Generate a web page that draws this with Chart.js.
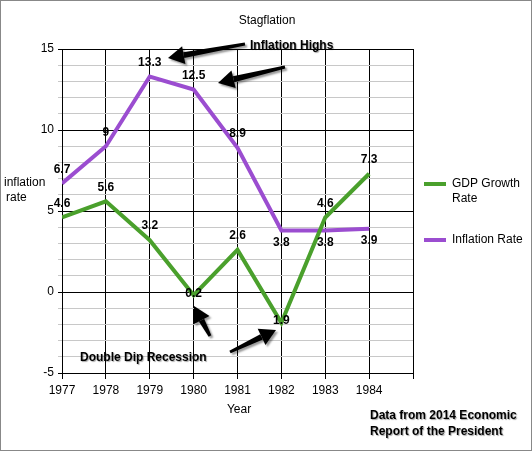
<!DOCTYPE html><html><head><meta charset="utf-8">
<script src="https://cdn.jsdelivr.net/npm/chart.js@4"></script>
<style>html,body{margin:0;padding:0;background:#fff}#w{width:532px;height:451px;position:relative}</style></head><body>
<div id="w"><canvas id="c" width="532" height="451"></canvas></div>
<script>
const years=[1977,1978,1979,1980,1981,1982,1983,1984];
const gdp=[4.6,5.6,3.2,-0.2,2.6,-1.9,4.6,7.3];
const inflation=[6.7,9,13.3,12.5,8.9,3.8,3.8,3.9];
const gdpLabels=['4.6','5.6','3.2','0.2','2.6','1.9','4.6','7.3'];
const infLabels=['6.7','9','13.3','12.5','8.9','3.8','3.8','3.9'];
const F='"Liberation Sans", Arial, sans-serif';
const GREEN='#4aa02c', PURPLE='#9b4dd0';
function arrow(ctx,x1,y1,x2,y2){
  const a=Math.atan2(y2-y1,x2-x1), L=16;
  ctx.save();ctx.shadowColor='rgba(0,0,0,0.4)';ctx.shadowOffsetX=2;ctx.shadowOffsetY=2;ctx.shadowBlur=2;
  ctx.fillStyle='#000';
  const hx=x2-L*Math.cos(a),hy=y2-L*Math.sin(a),px=-Math.sin(a),py=Math.cos(a);
  ctx.beginPath();ctx.moveTo(x1+px*1.5,y1+py*1.5);ctx.lineTo(hx+px*3,hy+py*3);ctx.lineTo(hx-px*3,hy-py*3);ctx.lineTo(x1-px*1.5,y1-py*1.5);ctx.fill();
  ctx.beginPath();ctx.moveTo(x2,y2);ctx.lineTo(hx+px*9,hy+py*9);ctx.lineTo(hx-px*9,hy-py*9);ctx.closePath();ctx.fill();
  ctx.restore();
}
const deco={id:'deco',afterDatasetsDraw(ch){
  const ctx=ch.ctx,xs=ch.scales.x,ys=ch.scales.y;
  ctx.save();
  ctx.font='bold 12px '+F;ctx.fillStyle='#000';ctx.textAlign='center';ctx.textBaseline='middle';
  years.forEach((yr,i)=>{
    const x=xs.getPixelForValue(yr);
    let py=ys.getPixelForValue(gdp[i]);
    ctx.fillText(gdpLabels[i],x,gdp[i]<0?py-2:py-14);
    py=ys.getPixelForValue(inflation[i]);
    ctx.fillText(infLabels[i],x,(i>=5)?py+12:py-14);
  });
  arrow(ctx,245,44,168,58);
  arrow(ctx,285,67,218,83);
  arrow(ctx,210,336,194,306);
  arrow(ctx,230,352,276,330);
  ctx.shadowColor='rgba(0,0,0,0.35)';ctx.shadowOffsetX=1;ctx.shadowOffsetY=1;ctx.shadowBlur=1;
  ctx.textAlign='left';
  ctx.fillText('Inflation Highs',250,46);
  ctx.fillText('Double Dip Recession',80,358);
  ctx.fillText('Data from 2014 Economic',370,416);
  ctx.fillText('Report of the President',370,432);
  ctx.restore();
  ctx.save();
  ctx.font='12px '+F;ctx.fillStyle='#000';ctx.textAlign='center';ctx.textBaseline='middle';
  ctx.fillText('Stagflation',267,21);
  ctx.fillText('Year',239,410);
  ctx.textAlign='left';
  ctx.fillText('inflation',4,183);ctx.fillText('rate',6,198);
  ch.data.datasets.forEach((d,i)=>{
    const y=[184,240][i];
    ctx.strokeStyle=d.borderColor;ctx.lineWidth=4;ctx.beginPath();ctx.moveTo(424,y);ctx.lineTo(446,y);ctx.stroke();
    const lines=d.label==='GDP Growth Rate'?['GDP Growth','Rate']:[d.label];
    lines.forEach((t,j)=>ctx.fillText(t,452,y+j*15));
  });
  ctx.strokeStyle='#888';ctx.lineWidth=1;ctx.strokeRect(0.5,0.5,531,450);
  ctx.restore();
}};
new Chart(document.getElementById('c'),{type:'line',
 data:{datasets:[
  {label:'GDP Growth Rate',data:years.map((y,i)=>({x:y,y:gdp[i]})),borderColor:GREEN,borderWidth:4,pointRadius:0,tension:0},
  {label:'Inflation Rate',data:years.map((y,i)=>({x:y,y:inflation[i]})),borderColor:PURPLE,borderWidth:4,pointRadius:0,tension:0}]},
 options:{responsive:false,animation:false,events:[],
  layout:{padding:{top:49,right:532-413,bottom:0,left:0}},
  plugins:{legend:{display:false},tooltip:{enabled:false},title:{display:false}},
  scales:{
   x:{type:'linear',min:1977,max:1985,afterFit(s){s.height=451-373;},
      ticks:{stepSize:1,color:'#000',font:{family:F,size:12},callback:v=>v<=1984?String(v):'',maxRotation:0,padding:4},
      grid:{color:'#000',lineWidth:1,tickLength:6,drawTicks:true},border:{color:'#000'}},
   y:{min:-5,max:15,afterFit(s){s.width=62;},
      ticks:{stepSize:1,autoSkip:false,color:'#000',font:{family:F,size:12},callback:v=>v%5===0?String(v):'',padding:4},
      grid:{color:c=>c.tick.value%5===0?'#000':'#c8c8c8',lineWidth:1,tickLength:4},border:{color:'#000'}}
  }},
 plugins:[deco]});
</script></body></html>
